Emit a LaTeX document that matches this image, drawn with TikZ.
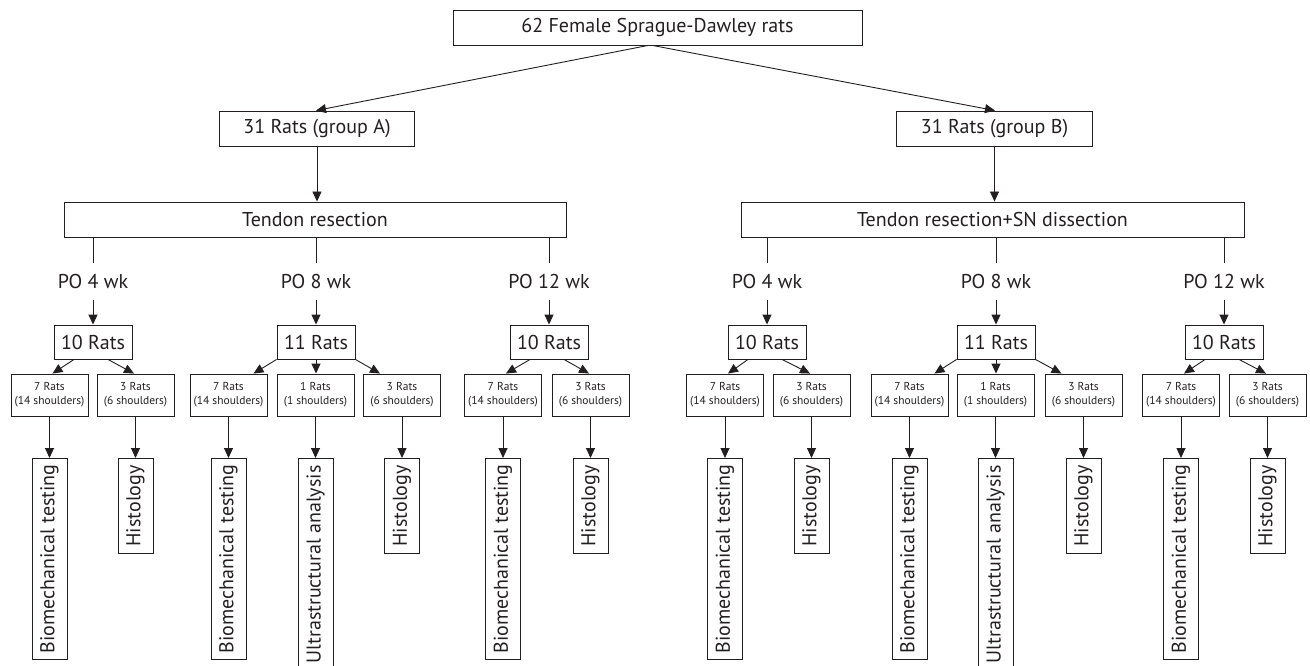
\documentclass[tikz,border=0pt]{standalone}
\usepackage{fontspec}
\setmainfont{PT Sans}
\usetikzlibrary{arrows.meta,calc}
\definecolor{ink}{RGB}{35,31,32}
\begin{document}
\begin{tikzpicture}[x=1pt,y=-1pt,
  font=\fontsize{20}{23}\selectfont,
  box/.style={draw=ink, text=ink, line width=0.9pt, inner sep=0pt, minimum height=35pt, align=center},
  cnt/.style={box, minimum width=78pt, minimum height=34pt},
  sub/.style={box, minimum width=77pt, minimum height=42pt, font=\fontsize{11.5}{14}\selectfont},
  vbox/.style={box, rotate=90, anchor=east, minimum height=35pt},
  po/.style={text=ink, inner sep=0pt, minimum height=37pt},
  arr/.style={draw=ink, line width=0.9pt, -{Triangle[length=10pt,width=9pt]}},
  ln/.style={draw=ink, line width=0.9pt}]
\useasboundingbox (0,0) rectangle (1310,666);
\clip (0,0) rectangle (1310,666);

% top levels
\node[box, minimum width=409pt] (top) at (657.5,27.5) {62 Female Sprague-Dawley rats};
\node[box, minimum width=195pt] (gA) at (317,128.5) {31 Rats (group A)};
\node[box, minimum width=196pt] (gB) at (994.5,128.5) {31 Rats (group B)};
\node[box, minimum width=502pt] (tA) at (315,219.5) {Tendon resection};
\node[box, minimum width=503pt] (tB) at (992.5,219.5) {Tendon resection+SN dissection};

\draw[arr] ($(top.south)+(-9.5,0)$) -- ($(gA.north)+(-1,0)$);
\draw[arr] ($(top.south)+(-5,0)$) -- ($(gB.north)+(0.5,0)$);
\draw[arr] (gA.south) -- (gA.south |- tA.north);
\draw[arr] (gB.south) -- (gB.south |- tB.north);

% PO labels
\node[po] (pA1) at (93,281.5) {PO 4 wk};
\node[po] (pA2) at (316,281.5) {PO 8 wk};
\node[po] (pA3) at (549,281.5) {PO 12 wk};
\node[po] (pB1) at (767,281.5) {PO 4 wk};
\node[po] (pB2) at (996,281.5) {PO 8 wk};
\node[po] (pB3) at (1224,281.5) {PO 12 wk};

\foreach \p in {pA1,pA2,pA3} \draw[ln] (tA.south -| \p) -- (\p.north);
\foreach \p in {pB1,pB2,pB3} \draw[ln] (tB.south -| \p) -- (\p.north);

% count boxes
\node[cnt] (nA1) at (93,342) {10 Rats};
\node[cnt] (nA2) at (316,342) {11 Rats};
\node[cnt] (nA3) at (549,342) {10 Rats};
\node[cnt] (nB1) at (767,342) {10 Rats};
\node[cnt] (nB2) at (996,342) {11 Rats};
\node[cnt] (nB3) at (1224,342) {10 Rats};

\draw[arr] (pA1.south) -- (nA1.north);
\draw[arr] (pA2.south) -- (nA2.north);
\draw[arr] (pA3.south) -- (nA3.north);
\draw[arr] (pB1.south) -- (nB1.north);
\draw[arr] (pB2.south) -- (nB2.north);
\draw[arr] (pB3.south) -- (nB3.north);

% sub boxes
\node[sub] (sA1a) at (49.5,395) {7 Rats\\(14 shoulders)};
\node[sub] (sA1b) at (135.5,395) {3 Rats\\(6 shoulders)};
\node[sub] (sA2a) at (228.5,395) {7 Rats\\(14 shoulders)};
\node[sub] (sA2b) at (315.5,395) {1 Rats\\(1 shoulders)};
\node[sub] (sA2c) at (402,395) {3 Rats\\(6 shoulders)};
\node[sub] (sA3a) at (503,395) {7 Rats\\(14 shoulders)};
\node[sub] (sA3b) at (590.5,395) {3 Rats\\(6 shoulders)};
\node[sub] (sB1a) at (725,395) {7 Rats\\(14 shoulders)};
\node[sub] (sB1b) at (811.5,395) {3 Rats\\(6 shoulders)};
\node[sub] (sB2a) at (909.5,395) {7 Rats\\(14 shoulders)};
\node[sub] (sB2b) at (995.5,395) {1 Rats\\(1 shoulders)};
\node[sub] (sB2c) at (1083.5,395) {3 Rats\\(6 shoulders)};
\node[sub] (sB3a) at (1181,395) {7 Rats\\(14 shoulders)};
\node[sub] (sB3b) at (1267.5,395) {3 Rats\\(6 shoulders)};

% count -> sub arrows (10 rats)
\foreach \n/\a/\b in {nA1/sA1a/sA1b, nA3/sA3a/sA3b, nB1/sB1a/sB1b, nB3/sB3a/sB3b}{
  \draw[arr] ($(\n.south)+(-19,0)$) -- ($(\a.north)+(3,0)$);
  \draw[arr] ($(\n.south)+(15,0)$) -- ($(\b.north)+(-1.5,0)$);
}
% count -> sub arrows (11 rats)
\foreach \n/\a/\b/\c in {nA2/sA2a/sA2b/sA2c, nB2/sB2a/sB2b/sB2c}{
  \draw[arr] (\n.south west) -- ($(\a.north)+(25,0)$);
  \draw[arr] (\n.south) -- (\n.south |- \b.north);
  \draw[arr] (\n.south east) -- ($(\c.north)+(-22,0)$);
}

% vertical outcome boxes
\node[vbox, minimum width=201pt] (vA1a) at (49.5,458) {Biomechanical testing};
\node[vbox, minimum width=95pt] (vA1b) at (135.5,458) {Histology};
\node[vbox, minimum width=201pt] (vA2a) at (228.5,458) {Biomechanical testing};
\node[vbox, minimum width=212pt] (vA2b) at (315.5,458) {Ultrastructural analysis};
\node[vbox, minimum width=95pt] (vA2c) at (402,458) {Histology};
\node[vbox, minimum width=201pt] (vA3a) at (503,458) {Biomechanical testing};
\node[vbox, minimum width=95pt] (vA3b) at (590.5,458) {Histology};
\node[vbox, minimum width=201pt] (vB1a) at (725,458) {Biomechanical testing};
\node[vbox, minimum width=95pt] (vB1b) at (811.5,458) {Histology};
\node[vbox, minimum width=201pt] (vB2a) at (909.5,458) {Biomechanical testing};
\node[vbox, minimum width=212pt] (vB2b) at (995.5,458) {Ultrastructural analysis};
\node[vbox, minimum width=95pt] (vB2c) at (1083.5,458) {Histology};
\node[vbox, minimum width=201pt] (vB3a) at (1181,458) {Biomechanical testing};
\node[vbox, minimum width=95pt] (vB3b) at (1267.5,458) {Histology};

\foreach \s/\v in {sA1a/vA1a, sA1b/vA1b, sA2a/vA2a, sA2b/vA2b, sA2c/vA2c, sA3a/vA3a, sA3b/vA3b,
                   sB1a/vB1a, sB1b/vB1b, sB2a/vB2a, sB2b/vB2b, sB2c/vB2c, sB3a/vB3a, sB3b/vB3b}
  \draw[arr] (\s.south) -- (\v.east);
\end{tikzpicture}
\end{document}
